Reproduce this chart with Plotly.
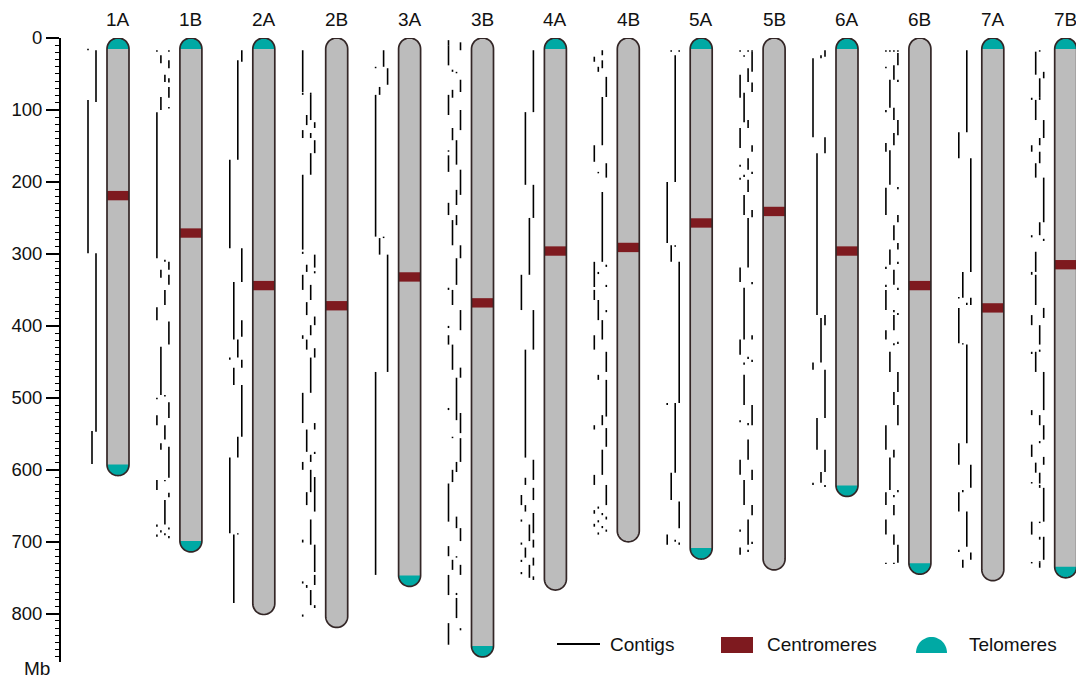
import math
import plotly.graph_objects as go

# ---------------------------------------------------------------- data (Mb)
CHROMOSOMES = ["1A", "1B", "2A", "2B", "3A", "3B", "4A", "4B",
               "5A", "5B", "6A", "6B", "7A", "7B"]
LENGTHS = [608, 714, 801, 819, 762, 860, 767, 700, 724, 739, 637, 745, 754, 750]
CENTROMERES = [219, 271, 344, 372, 332, 368, 296, 291, 257, 241, 296, 344, 375, 315]
TELOMERE_TOP = [1, 1, 1, 0, 0, 0, 1, 0, 1, 0, 1, 0, 1, 1]
TELOMERE_BOTTOM = [1, 1, 0, 0, 1, 1, 0, 0, 1, 0, 1, 1, 0, 1]
Y_TICKS = [0, 100, 200, 300, 400, 500, 600, 700, 800]

# contigs: (start Mb, end Mb, lane)
CONTIGS_1A = [(15, 17, 1), (17, 89, 3), (86, 299, 1), (299, 547, 3), (546, 592, 2)]
CONTIGS_1B = [(17, 19, 0), (17, 19, 3), (24, 35, 1), (31, 42, 3), (51, 61, 2), (56, 62, 3),
              (68, 83, 3), (82, 100, 1), (96, 98, 3), (103, 306, 0), (308, 311, 2),
              (311, 322, 3), (322, 333, 1), (329, 343, 3), (350, 371, 2), (374, 392, 0),
              (394, 426, 3), (429, 496, 1), (496, 498, 2), (500, 502, 0), (506, 528, 3),
              (524, 538, 0), (538, 558, 2), (563, 572, 1), (568, 611, 3), (614, 628, 0),
              (614, 616, 2), (632, 638, 3), (642, 676, 2), (676, 679, 0), (680, 683, 3),
              (684, 687, 1), (688, 691, 2), (690, 693, 0), (692, 695, 3)]
CONTIGS_2A = [(17, 33, 3), (31, 169, 2), (169, 292, 0), (292, 339, 3), (339, 419, 1),
              (392, 415, 3), (419, 444, 2), (444, 447, 0), (447, 458, 3), (458, 482, 1),
              (482, 554, 3), (554, 583, 2), (583, 688, 0), (688, 690, 2), (690, 785, 1)]
CONTIGS_2B = [(17, 75, 0), (76, 79, 0), (76, 79, 2), (79, 114, 2), (107, 121, 1),
              (117, 125, 3), (128, 139, 0), (132, 139, 2), (142, 160, 3), (160, 190, 2),
              (190, 294, 0), (297, 300, 0), (301, 319, 3), (315, 325, 1), (324, 327, 3),
              (329, 350, 0), (343, 364, 2), (367, 385, 1), (387, 399, 3), (399, 413, 2),
              (413, 418, 0), (419, 433, 1), (431, 444, 3), (444, 493, 2), (493, 535, 0),
              (535, 544, 3), (544, 575, 1), (575, 578, 3), (579, 589, 2), (589, 600, 0),
              (600, 631, 2), (610, 658, 3), (631, 649, 1), (669, 704, 2), (697, 701, 0),
              (704, 742, 3), (746, 760, 3), (755, 758, 0), (760, 764, 1), (767, 788, 2),
              (788, 792, 3), (801, 804, 0)]
CONTIGS_3A = [(17, 40, 2), (40, 42, 0), (42, 65, 3), (68, 79, 1), (79, 276, 0),
              (276, 278, 2), (278, 301, 1), (301, 464, 3), (464, 746, 0)]
CONTIGS_3B = [(3, 10, 0), (10, 38, 0), (6, 17, 3), (44, 47, 1), (47, 49, 2), (58, 75, 3),
              (72, 83, 1), (79, 107, 0), (100, 128, 3), (125, 142, 1), (142, 176, 2),
              (156, 158, 0), (163, 186, 0), (183, 218, 3), (211, 232, 2), (229, 246, 0),
              (246, 260, 2), (253, 288, 1), (288, 306, 3), (306, 343, 2), (347, 350, 0),
              (350, 371, 1), (378, 406, 3), (400, 403, 0), (413, 426, 0), (426, 461, 1),
              (458, 472, 3), (472, 531, 2), (514, 517, 0), (521, 549, 3), (554, 556, 1),
              (556, 589, 3), (589, 603, 2), (600, 617, 1), (619, 672, 0), (665, 681, 2),
              (681, 699, 3), (706, 720, 0), (720, 722, 2), (725, 739, 1), (732, 746, 3),
              (746, 774, 0), (771, 774, 2), (778, 806, 2), (813, 843, 0), (820, 823, 3)]
CONTIGS_4A = [(17, 103, 3), (103, 204, 1), (204, 250, 3), (250, 329, 2), (329, 378, 0),
              (378, 433, 3), (433, 583, 1), (586, 614, 3), (611, 621, 1), (625, 642, 3),
              (635, 649, 0), (649, 658, 1), (660, 688, 3), (669, 672, 0), (676, 699, 2),
              (697, 708, 3), (701, 704, 0), (708, 722, 1), (722, 733, 3), (725, 728, 0),
              (732, 750, 2), (742, 745, 0), (748, 753, 3)]
CONTIGS_4B = [(17, 24, 2), (26, 33, 0), (31, 42, 2), (40, 47, 1), (54, 82, 3), (82, 149, 2),
              (149, 172, 0), (174, 194, 3), (186, 188, 1), (214, 311, 2), (311, 346, 0),
              (315, 318, 3), (325, 328, 1), (343, 346, 3), (350, 364, 0), (364, 392, 1),
              (378, 381, 3), (392, 419, 2), (413, 433, 0), (436, 464, 3), (468, 475, 1),
              (475, 526, 3), (524, 538, 2), (538, 544, 0), (542, 568, 3), (572, 607, 2),
              (607, 621, 0), (621, 649, 3), (651, 654, 1), (656, 661, 0), (660, 663, 2),
              (665, 669, 3), (670, 673, 1), (675, 679, 0), (678, 681, 2), (683, 686, 3),
              (687, 690, 1)]
CONTIGS_5A = [(17, 19, 1), (17, 19, 3), (24, 200, 2), (200, 285, 0), (288, 290, 2),
              (288, 311, 1), (311, 507, 3), (507, 510, 0), (507, 604, 2), (604, 642, 1),
              (644, 681, 3), (690, 704, 0), (697, 700, 2), (701, 704, 3)]
CONTIGS_5B = [(17, 19, 0), (17, 19, 2), (17, 19, 3), (24, 26, 1), (19, 47, 3), (42, 61, 2),
              (51, 83, 0), (62, 75, 3), (76, 117, 1), (114, 125, 2), (125, 153, 0),
              (149, 158, 3), (167, 183, 2), (176, 179, 0), (186, 189, 3), (190, 193, 1),
              (197, 214, 2), (194, 197, 0), (218, 246, 1), (239, 249, 3), (250, 319, 2),
              (319, 339, 0), (339, 342, 3), (347, 419, 1), (413, 419, 3), (419, 440, 0),
              (443, 446, 2), (447, 450, 3), (451, 454, 1), (468, 510, 1), (510, 538, 3),
              (531, 534, 0), (535, 538, 2), (558, 586, 2), (586, 607, 0), (600, 614, 3),
              (614, 649, 1), (649, 663, 3), (669, 704, 2), (683, 686, 0), (700, 703, 3),
              (708, 718, 0), (711, 714, 2)]
CONTIGS_6A = [(24, 28, 2), (17, 26, 3), (28, 138, 0), (138, 160, 3), (160, 385, 1),
              (385, 399, 3), (389, 451, 2), (451, 461, 0), (461, 528, 3), (528, 572, 1),
              (572, 603, 3), (603, 618, 2), (618, 621, 0), (621, 624, 3)]
CONTIGS_6B = [(17, 19, 0), (17, 19, 1), (17, 19, 2), (17, 19, 3), (21, 38, 3), (38, 58, 2),
              (40, 42, 0), (58, 61, 3), (58, 97, 1), (97, 114, 2), (100, 103, 0),
              (114, 135, 3), (132, 149, 2), (146, 158, 0), (156, 204, 1), (207, 210, 3),
              (208, 246, 0), (246, 256, 3), (260, 281, 2), (285, 294, 3), (294, 315, 1),
              (311, 314, 3), (318, 321, 0), (322, 343, 2), (343, 346, 0), (347, 350, 3),
              (350, 378, 0), (378, 381, 2), (382, 385, 3), (385, 406, 2), (406, 419, 0),
              (424, 427, 2), (422, 425, 3), (436, 464, 1), (464, 492, 3), (492, 510, 2),
              (510, 538, 3), (538, 572, 0), (572, 583, 2), (583, 628, 1), (628, 631, 3),
              (635, 638, 2), (631, 649, 0), (649, 663, 2), (669, 690, 0), (690, 704, 2),
              (704, 729, 3), (729, 731, 0), (729, 731, 2)]
CONTIGS_7A = [(17, 131, 2), (131, 167, 0), (167, 325, 3), (325, 361, 1), (360, 362, 0),
              (368, 371, 2), (361, 371, 3), (375, 424, 0), (424, 426, 1), (426, 563, 2),
              (563, 593, 0), (593, 625, 3), (628, 631, 1), (631, 658, 0), (658, 707, 2),
              (711, 714, 0), (715, 725, 3), (725, 736, 1)]
CONTIGS_7B = [(17, 19, 2), (19, 51, 1), (47, 56, 3), (56, 83, 2), (83, 86, 0), (83, 86, 2),
              (86, 114, 1), (114, 139, 3), (139, 149, 2), (149, 158, 0), (158, 174, 2),
              (174, 194, 1), (194, 256, 3), (256, 274, 2), (274, 277, 0), (279, 282, 3),
              (297, 325, 1), (325, 329, 0), (329, 371, 1), (375, 389, 3), (385, 399, 0),
              (399, 426, 2), (436, 439, 0), (433, 436, 2), (436, 464, 1), (464, 517, 3),
              (517, 524, 0), (524, 538, 2), (538, 558, 3), (565, 582, 0), (560, 563, 2),
              (582, 593, 3), (590, 604, 1), (604, 619, 2), (617, 619, 0), (621, 625, 2),
              (625, 672, 3), (672, 690, 0), (672, 674, 2), (693, 697, 2), (693, 725, 3),
              (728, 730, 0), (727, 729, 2), (729, 736, 2)]

CONTIGS = [CONTIGS_1A, CONTIGS_1B, CONTIGS_2A, CONTIGS_2B, CONTIGS_3A, CONTIGS_3B,
           CONTIGS_4A, CONTIGS_4B, CONTIGS_5A, CONTIGS_5B, CONTIGS_6A, CONTIGS_6B,
           CONTIGS_7A, CONTIGS_7B]

# ---------------------------------------------------------------- styling
W, H = 1076, 678
M_L, M_R, M_T, M_B = 61, 0, 38, 16
PLOT_W = W - M_L - M_R
PLOT_H = H - M_T - M_B
SLOT_PX = 72.9            # horizontal distance between chromosomes
Y_MAX = 867
PX_PER_MB = PLOT_H / Y_MAX
X0 = -(118 - M_L) / SLOT_PX
X1 = X0 + PLOT_W / SLOT_PX

HALF_W_PX = 11
RX = HALF_W_PX / SLOT_PX
RY = HALF_W_PX / PX_PER_MB
CEN_HALF = 6.5
LANE_PX = [-34, -30, -26, -22]

GRAY = "#bcbcbc"
OUTLINE = "#332626"
TEAL = "#00a9a4"
CEN_RED = "#7e1a1f"
FONT = "Liberation Sans, Arial, sans-serif"


def arc(xc, yc, rx, ry, t0, t1, sign, n=28):
    pts = []
    for k in range(n + 1):
        t = t0 + (t1 - t0) * k / n
        pts.append((xc + rx * math.cos(t), yc + sign * ry * math.sin(t)))
    return pts


def to_path(pts, close=True):
    s = "M " + " L ".join(f"{x:.5f},{y:.4f}" for x, y in pts)
    return s + (" Z" if close else "")


shapes = []
for i, (name, length, cen) in enumerate(zip(CHROMOSOMES, LENGTHS, CENTROMERES)):
    xc = i
    top = arc(xc, RY, RX, RY, math.pi, 0, -1)
    bottom = arc(xc, length - RY, RX, RY, 0, math.pi, 1)
    pill = to_path(top + bottom)
    shapes.append(dict(type="path", xref="x", yref="y", path=pill,
                       fillcolor=GRAY, line=dict(width=0), layer="above"))
    if TELOMERE_TOP[i]:
        shapes.append(dict(type="path", xref="x", yref="y", path=to_path(top),
                           fillcolor=TEAL, line=dict(width=0), layer="above"))
    if TELOMERE_BOTTOM[i]:
        shapes.append(dict(type="path", xref="x", yref="y", path=to_path(bottom),
                           fillcolor=TEAL, line=dict(width=0), layer="above"))
    shapes.append(dict(type="rect", xref="x", yref="y",
                       x0=xc - RX, x1=xc + RX, y0=cen - CEN_HALF, y1=cen + CEN_HALF,
                       fillcolor=CEN_RED, line=dict(width=0), layer="above"))
    shapes.append(dict(type="path", xref="x", yref="y", path=pill,
                       fillcolor="rgba(0,0,0,0)", line=dict(color=OUTLINE, width=1.7),
                       layer="above"))

# contig segments
cx, cy = [], []
for i, contigs in enumerate(CONTIGS):
    for start, end, lane in contigs:
        x = i + LANE_PX[lane] / SLOT_PX
        cx += [x, x, None]
        cy += [start, end, None]

fig = go.Figure()
fig.add_trace(go.Scatter(x=cx, y=cy, mode="lines",
                         line=dict(color="black", width=1.6),
                         hoverinfo="skip", showlegend=False))

annotations = []
for i, name in enumerate(CHROMOSOMES):
    annotations.append(dict(x=i, y=1 + (M_T - 19.5) / PLOT_H, xref="x", yref="paper",
                            text=name, showarrow=False, xanchor="center", yanchor="middle",
                            font=dict(family=FONT, size=19, color="#111")))


def px(xp):
    return (xp - M_L) / PLOT_W


def py(yp):
    return 1 - (yp - M_T) / PLOT_H


annotations.append(dict(x=px(37), y=py(668), xref="paper", yref="paper", text="Mb",
                        showarrow=False, xanchor="center", yanchor="middle",
                        font=dict(family=FONT, size=19, color="#111")))

# legend
shapes.append(dict(type="line", xref="paper", yref="paper",
                   x0=px(557), x1=px(600), y0=py(644), y1=py(644),
                   line=dict(color="black", width=2)))
shapes.append(dict(type="rect", xref="paper", yref="paper",
                   x0=px(721), x1=px(753), y0=py(653), y1=py(637),
                   fillcolor=CEN_RED, line=dict(width=0)))
semi = [(px(931.5 + 15.5 * math.cos(t)), py(653 - 16 * math.sin(t)))
        for t in [math.pi * k / 30 for k in range(31)]]
shapes.append(dict(type="path", xref="paper", yref="paper", path=to_path(semi),
                   fillcolor=TEAL, line=dict(width=0)))
for label, xp in [("Contigs", 608), ("Centromeres", 765), ("Telomeres", 967)]:
    annotations.append(dict(x=px(xp), y=py(644), xref="paper", yref="paper", text=label,
                            showarrow=False, xanchor="left", yanchor="middle",
                            font=dict(family=FONT, size=19, color="#111")))

fig.update_layout(
    width=W, height=H,
    margin=dict(l=M_L, r=M_R, t=M_T, b=M_B, pad=0),
    plot_bgcolor="white", paper_bgcolor="white",
    showlegend=False,
    shapes=shapes, annotations=annotations,
    xaxis=dict(range=[X0, X1], visible=False, fixedrange=True),
    yaxis=dict(range=[Y_MAX, 0], tickvals=Y_TICKS, ticktext=[str(v) for v in Y_TICKS],
               ticks="outside", ticklen=13, tickwidth=1.5, tickcolor="black",
               showline=True, linecolor="black", linewidth=1.8,
               showgrid=False, zeroline=False,
               tickfont=dict(family=FONT, size=18.5, color="#111"),
               minor=dict(dtick=10, tick0=0, ticks="outside", ticklen=4,
                          tickwidth=1, tickcolor="black", showgrid=False)),
)

fig.write_html("out.html")
